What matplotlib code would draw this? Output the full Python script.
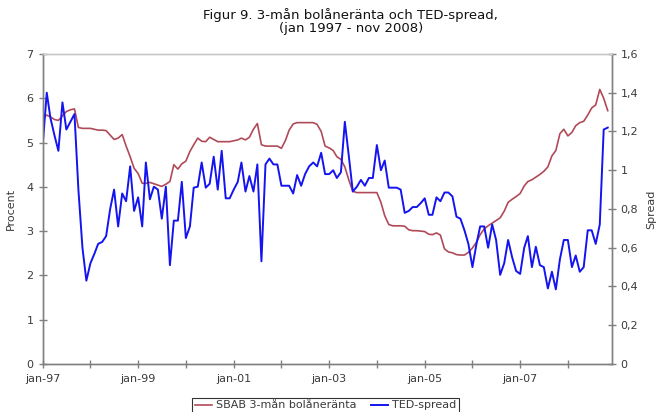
import matplotlib
matplotlib.use("Agg")
import matplotlib.pyplot as plt
import pandas as pd

# Monthly data, Jan 1997 - Nov 2008
months = pd.date_range("1997-01-01", periods=143, freq="MS")

sbab = [
    5.55, 5.62, 5.58, 5.52, 5.50, 5.60, 5.70, 5.74, 5.76, 5.34,
    5.32, 5.32, 5.32, 5.30, 5.28, 5.28, 5.27, 5.17, 5.07, 5.10,
    5.18, 4.92, 4.68, 4.42, 4.30, 4.08, 4.08, 4.10, 4.07, 4.04,
    4.01, 4.06, 4.12, 4.50, 4.40, 4.52, 4.58, 4.80, 4.95, 5.10,
    5.03, 5.02, 5.12, 5.07, 5.02, 5.02, 5.02, 5.02, 5.04, 5.06,
    5.10, 5.06, 5.12, 5.30, 5.43, 4.95, 4.92, 4.92, 4.92, 4.92,
    4.87, 5.05, 5.28, 5.42, 5.45, 5.45, 5.45, 5.45, 5.45, 5.41,
    5.25, 4.92, 4.88, 4.82, 4.68, 4.62, 4.45, 4.15, 3.90, 3.87,
    3.87, 3.87, 3.87, 3.87, 3.87, 3.65, 3.35, 3.15, 3.12, 3.12,
    3.12, 3.11, 3.03, 3.01, 3.01, 3.00, 2.99, 2.93, 2.92, 2.96,
    2.91, 2.60, 2.53, 2.51, 2.47, 2.46, 2.46, 2.52, 2.62, 2.75,
    2.92, 3.05, 3.12, 3.18, 3.24, 3.30, 3.45, 3.65, 3.72, 3.78,
    3.85, 4.02, 4.12, 4.16, 4.22, 4.28, 4.35, 4.45, 4.70, 4.82,
    5.20, 5.30, 5.15, 5.23, 5.38, 5.45, 5.48, 5.62, 5.78, 5.85,
    6.20, 6.00, 5.72,
]

ted = [
    1.13, 1.40, 1.27, 1.18, 1.10, 1.35, 1.21, 1.25, 1.29, 0.90,
    0.60, 0.43, 0.52, 0.57, 0.62, 0.63, 0.66, 0.80, 0.90, 0.71,
    0.88, 0.84, 1.02, 0.79, 0.86, 0.71, 1.04, 0.85, 0.915, 0.90,
    0.75, 0.915, 0.51, 0.74, 0.74, 0.94, 0.65, 0.71, 0.91, 0.915,
    1.04, 0.91, 0.93, 1.07, 0.90, 1.10, 0.855, 0.855, 0.90, 0.94,
    1.04, 0.89, 0.97, 0.89, 1.03, 0.53, 1.03, 1.06, 1.03, 1.03,
    0.92, 0.92, 0.92, 0.88, 0.975, 0.92, 0.98, 1.02, 1.04, 1.02,
    1.09, 0.98, 0.98, 1.00, 0.96, 0.99, 1.25, 1.07, 0.89, 0.915,
    0.95, 0.92, 0.96, 0.96, 1.13, 1.00, 1.05, 0.91, 0.91, 0.91,
    0.90, 0.78, 0.79, 0.81, 0.81, 0.83, 0.855, 0.77, 0.77, 0.86,
    0.84, 0.885, 0.885, 0.865, 0.76, 0.75, 0.69, 0.62, 0.50, 0.62,
    0.71, 0.71, 0.60, 0.72, 0.64, 0.46, 0.52, 0.64, 0.55, 0.48,
    0.465, 0.60, 0.66, 0.50, 0.605, 0.51, 0.50, 0.39, 0.476, 0.385,
    0.54, 0.64, 0.64, 0.50, 0.56, 0.476, 0.50, 0.69, 0.69, 0.62,
    0.72, 1.21, 1.22,
]

x_tick_labels = ["jan-97", "", "jan-99", "", "jan-01", "", "jan-03", "",
                 "jan-05", "", "jan-07", ""]
left_ticks = [0, 1, 2, 3, 4, 5, 6, 7]
right_ticks = [0, 0.2, 0.4, 0.6, 0.8, 1.0, 1.2, 1.4, 1.6]
right_tick_labels = ["0", "0,2", "0,4", "0,6", "0,8", "1", "1,2", "1,4", "1,6"]

title = "Figur 9. 3-mån bolåneränta och TED-spread,\n(jan 1997 - nov 2008)"
red = "#b04a58"
blue = "#1414f0"
axis_col = "#808080"
text_col = "#3a3a3a"

plt.rcParams['font.family'] = ['DejaVu Sans']

fig = plt.figure(figsize=(6.57, 4.12), dpi=100)
ax = fig.add_axes([0.065, 0.1165, 0.866, 0.7525])
ax2 = ax.twinx()

l1, = ax.plot(months, sbab, color=red, lw=1.2, label="SBAB 3-mån bolåneränta")
l2, = ax2.plot(months, ted, color=blue, lw=1.4, label="TED-spread")

ax.set_xlim(pd.Timestamp("1997-01-01"), pd.Timestamp("2008-12-01"))
ax.set_ylim(0, 7)
ax2.set_ylim(0, 1.6)

xt = pd.date_range("1997-01-01", periods=12, freq="12MS")
ax.set_xticks(xt)
ax.set_xticklabels(x_tick_labels)
ax.set_yticks(left_ticks)
ax.set_yticklabels([str(t) for t in left_ticks])
ax2.set_yticks(right_ticks)
ax2.set_yticklabels(right_tick_labels)

for a in (ax, ax2):
    for s in ("left", "bottom", "right"):
        a.spines[s].set_color(axis_col)
        a.spines[s].set_linewidth(1.0)
    a.spines["top"].set_color("#c8c8c8")
    a.spines["top"].set_linewidth(1.0)
    a.tick_params(direction="inout", length=6, width=1, color=axis_col,
                  labelcolor=text_col, labelsize=8)
ax.tick_params(axis="x", pad=4)

ax.set_ylabel("Procent", fontsize=8, color=text_col, labelpad=8)
ax2.set_ylabel("Spread", fontsize=8, color=text_col, labelpad=6)

fig.text(0.534, 0.915, title, ha="center", va="bottom", fontsize=9.5,
         color="#111111", linespacing=1.05)

leg = fig.legend([l1, l2], [l1.get_label(), l2.get_label()],
                 loc="center", bbox_to_anchor=(0.495, 0.016), ncol=2,
                 frameon=True, fancybox=False, fontsize=8, handlelength=1.6,
                 handletextpad=0.3, columnspacing=1.3, borderpad=0.25,
                 labelcolor=text_col)
leg.get_frame().set_edgecolor("#000000")
leg.get_frame().set_linewidth(0.8)

fig.savefig("out.png", dpi=100)
